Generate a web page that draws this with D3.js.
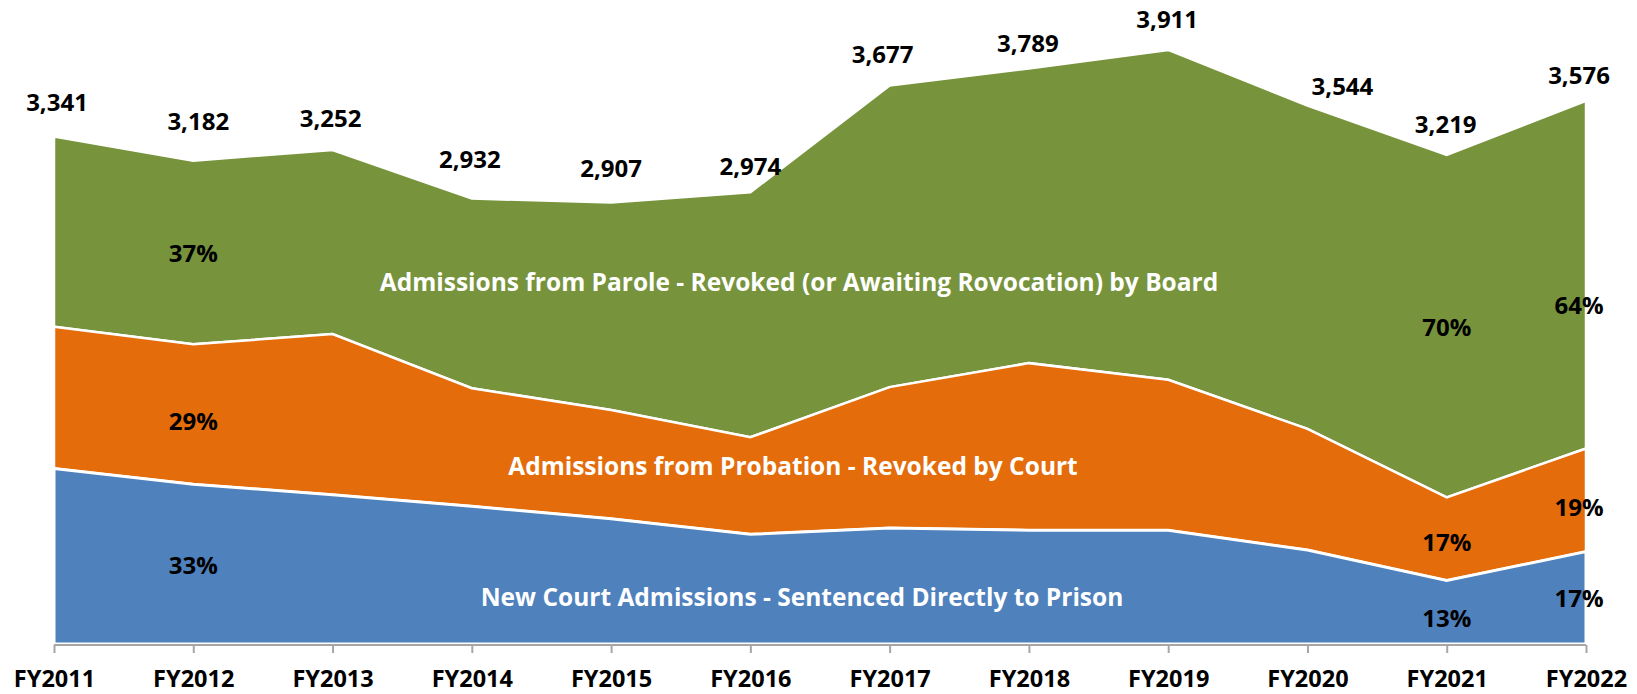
<!DOCTYPE html>
<html>
<head>
<meta charset="utf-8">
<script src="https://cdn.jsdelivr.net/npm/d3@7"></script>
<style>
  body { margin: 0; background: #fff; }
  svg text { font-family: "Open Sans", sans-serif; font-weight: 700; }
</style>
</head>
<body>
<svg id="chart" width="1637" height="694"></svg>
<script>
// fiscal years on the x axis
const years = ["FY2011", "FY2012", "FY2013", "FY2014", "FY2015", "FY2016",
               "FY2017", "FY2018", "FY2019", "FY2020", "FY2021", "FY2022"];

// admissions by type
const newCourt  = [1155, 1052, 983, 907, 825, 722, 763, 749, 749, 619, 418, 608];
const probation = [934, 921, 1058, 777, 715, 639, 928, 1100, 990, 797, 547, 679];
const parole    = [1252, 1209, 1211, 1248, 1367, 1613, 1986, 1940, 2172, 2128, 2254, 2289];

// totals shown above the top area
const totals = [3341, 3182, 3252, 2932, 2907, 2974, 3677, 3789, 3911, 3544, 3219, 3576];

// share labels: [year, series, text]
const shareLabels = [
  ["FY2012", "parole", "37%"], ["FY2012", "probation", "29%"], ["FY2012", "newCourt", "33%"],
  ["FY2021", "parole", "70%"], ["FY2021", "probation", "17%"], ["FY2021", "newCourt", "13%"],
  ["FY2022", "parole", "64%"], ["FY2022", "probation", "19%"], ["FY2022", "newCourt", "17%"]
];

const seriesNames = {
  newCourt: "New Court Admissions - Sentenced Directly to Prison",
  probation: "Admissions from Probation - Revoked by Court",
  parole: "Admissions from Parole - Revoked (or Awaiting Rovocation) by Board"
};

// label nudges (dx, dy) for the totals, like the manual placement in the original
const totalNudge = [[3, -35], [5, -40], [-2, -33], [-2, -40], [0, -35], [0, -27],
                    [-7, -32], [-1, -26], [-1, -31], [35, -20], [-1, -32], [-7, -26]];

const colors = { newCourt: "#4f81bd", probation: "#e46c0a", parole: "#77933c" };

const svg = d3.select("#chart");

const x = d3.scalePoint().domain(years).range([54, 1586]);
const y = d3.scaleLinear().domain([0, 4000]).range([644, 36.4]);

const table = years.map((yr, i) => ({
  year: yr, newCourt: newCourt[i], probation: probation[i], parole: parole[i]
}));
const keys = ["newCourt", "probation", "parole"];
const stacked = d3.stack().keys(keys)(table);

const area = d3.area()
  .x(d => x(d.data.year))
  .y0(d => y(d[0]))
  .y1(d => y(d[1]));

svg.append("g").selectAll("path")
  .data(stacked.slice().reverse())
  .join("path")
  .attr("d", area)
  .attr("fill", d => colors[d.key])
  .attr("stroke", "#fff")
  .attr("stroke-width", d => d.key === "newCourt" ? 3 : 2.5)
  .attr("stroke-linejoin", "miter");

// x axis
const axis = svg.append("g")
  .attr("transform", "translate(0,645)")
  .call(d3.axisBottom(x).tickSize(8).tickPadding(17));
axis.select(".domain").attr("stroke", "#a6a6a6").attr("stroke-width", 2)
  .attr("d", "M54,0H1586");
axis.selectAll(".tick line").attr("stroke", "#a6a6a6").attr("stroke-width", 2);
axis.selectAll(".tick text")
  .attr("fill", "#000")
  .style("font-family", "'Open Sans', sans-serif")
  .style("font-weight", 700)
  .style("font-size", "23.5px");

// totals
svg.append("g").selectAll("text")
  .data(years)
  .join("text")
  .attr("x", (d, i) => x(d) + totalNudge[i][0])
  .attr("y", (d, i) => y(totals[i]) + totalNudge[i][1])
  .attr("text-anchor", "middle")
  .attr("dominant-baseline", "central")
  .style("font-size", "24px")
  .attr("fill", "#000")
  .text((d, i) => d3.format(",")(totals[i]));

// share labels, centred in their band
const shareNudge = { "FY2022": [-7, 0] };
svg.append("g").selectAll("text")
  .data(shareLabels)
  .join("text")
  .attr("x", d => x(d[0]) + (shareNudge[d[0]] ? shareNudge[d[0]][0] : 0))
  .attr("y", d => {
    const s = stacked.find(l => l.key === d[1]);
    const pt = s[years.indexOf(d[0])];
    let yy = y((pt[0] + pt[1]) / 2);
    if (d[0] === "FY2022" && d[1] === "parole") yy += 30;
    if (d[1] === "probation") yy += 6;
    if (d[0] === "FY2021" && d[1] === "probation") yy -= 3;
    if (d[0] === "FY2021" && d[1] === "newCourt") yy += 5;
    return yy;
  })
  .attr("text-anchor", "middle")
  .attr("dominant-baseline", "central")
  .style("font-size", "24px")
  .attr("fill", "#000")
  .text(d => d[2]);

// series names inside the areas
const nameSpots = [
  ["parole", 799, 281],
  ["probation", 793, 465],
  ["newCourt", 802, 596]
];
svg.append("g").selectAll("text")
  .data(nameSpots)
  .join("text")
  .attr("x", d => d[1])
  .attr("y", d => d[2])
  .attr("text-anchor", "middle")
  .attr("dominant-baseline", "central")
  .style("font-size", "24.5px")
  .attr("fill", "#fff")
  .text(d => seriesNames[d[0]]);
</script>
</body>
</html>
